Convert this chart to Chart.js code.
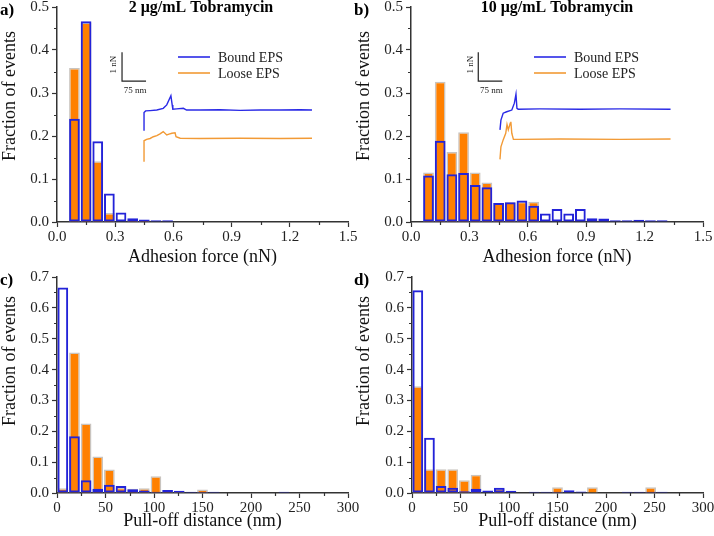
<!DOCTYPE html>
<html><head><meta charset="utf-8">
<script src="https://cdn.jsdelivr.net/npm/chart.js@4/dist/chart.umd.min.js"></script>
<style>
html,body{margin:0;padding:0;background:#fff;}
#wrap{position:relative;width:714px;height:536px;overflow:hidden;background:#fff;}
#wrap canvas{position:absolute;left:0;top:0;width:714px;height:536px;}
</style></head><body>
<div id="wrap">
<canvas id="ca" width="714" height="536"></canvas>
<canvas id="cb" width="714" height="536"></canvas>
<canvas id="cc" width="714" height="536"></canvas>
<canvas id="cd" width="714" height="536"></canvas>
</div>
<script>
// ---------- data ----------
const FORCE_BINS = [0.09,0.15,0.21,0.27,0.33,0.39,0.45,0.51,0.57,0.63,0.69,0.75,0.81,0.87,0.93,0.99,1.05,1.11,1.17,1.23,1.29];
const A_BOUND = [0.240,0.467,0.188,0.066,0.022,0.009,0.006,0.004,0.004,null,null,null,null,null,null,null,null,null,null,null,null];
const A_LOOSE = [0.358,0.464,0.141,0.021,null,0.006,0.004,null,null,null,null,null,null,null,null,null,null,null,null,null,null];
const B_BOUND = [0.108,0.189,0.111,0.114,0.086,0.081,0.044,0.046,0.050,0.038,0.020,0.030,0.020,0.030,0.009,0.008,0.004,0.004,0.005,0.004,0.004];
const B_LOOSE = [0.115,0.326,0.163,0.209,0.115,0.092,0.044,0.046,0.047,0.047,null,null,null,null,null,null,null,null,null,null,null];

const DIST_BINS = [6,18,30,42,54,66,78,90,102,114,126,138,150,162,174,186,198,210,222,234,246,258];
const C_BOUND = [0.666,0.184,0.041,0.014,0.027,0.023,0.012,0.008,0.004,0.010,0.007,0.004,0.004,0.004,null,null,null,null,null,0.004,null,null];
const C_LOOSE = [0.015,0.455,0.225,0.118,0.076,0.017,0.014,0.015,0.054,0.005,0.004,null,0.011,null,null,null,null,null,null,null,null,null];
const D_BOUND = [0.657,0.179,0.023,0.017,0.006,0.014,0.008,0.017,0.007,null,0.004,0.004,0.004,0.009,0.005,null,null,null,0.004,0.004,0.004,0.004];
const D_LOOSE = [0.346,0.077,0.077,0.077,0.041,0.059,null,0.014,null,null,null,null,0.019,null,null,0.019,null,null,null,null,0.019,null];

// inset force curves (distance in nm, force in nN, vertically offset)
const TRACE_A_BOUND_NM = [0,0,5,19,40,60,71,84,88,90,102,123,133,175,238,300,363,425,488,525];
const TRACE_A_BOUND_NN = [3.18,3.81,3.87,3.88,3.90,3.96,4.08,4.40,4.08,3.93,3.94,3.96,3.90,3.90,3.91,3.89,3.90,3.90,3.91,3.90];
const TRACE_A_LOOSE_NM = [0,0,8,19,29,40,50,60,71,78,87,97,100,113,175,300,425,525];
const TRACE_A_LOOSE_NN = [2.10,2.83,2.88,2.91,2.97,3.01,3.07,3.15,3.03,3.06,3.09,3.11,2.97,2.92,2.91,2.92,2.91,2.92];
const TRACE_B_BOUND_NM = [0,3,10,21,37,45,50,53,57,125,250,375,533];
const TRACE_B_BOUND_NN = [3.21,3.55,3.79,3.84,3.90,4.14,4.45,3.96,3.93,3.94,3.93,3.94,3.93];
const TRACE_B_LOOSE_NM = [0,3,10,18,22,26,32,34,37,42,57,188,375,533];
const TRACE_B_LOOSE_NN = [2.18,2.62,2.86,3.09,3.40,3.21,3.44,3.49,3.09,2.88,2.88,2.89,2.88,2.89];

const X_TICKS_FORCE = ['0.0','0.3','0.6','0.9','1.2','1.5'];
const SERIES_NAMES = ['Bound EPS','Loose EPS'];
const TITLES = ['2 \u03bcg/mL Tobramycin','10 \u03bcg/mL Tobramycin'];

// ---------- style ----------
const SERIF = "'Liberation Serif','Times New Roman',serif";
const BLUE = '#2323d8';
const ORANGE = '#ff8000';
const ORANGE_EDGE = '#c9c4bf';
const TRACE_BLUE = '#2a2ae6';
const TRACE_ORANGE = '#f29a35';
const AXIS = '#333333';

function isMajor(v, step){ const r = v/step; return Math.abs(r - Math.round(r)) < 1e-6; }

const deco = {
  id: 'deco',
  afterDraw(chart, args, o) {
    const ctx = chart.ctx;
    const xs = chart.scales.x, ys = chart.scales.y;
    ctx.save();
    // minor ticks
    ctx.strokeStyle = AXIS; ctx.lineWidth = 1.2;
    ctx.beginPath();
    xs.ticks.forEach(t => {
      if (!isMajor(t.value, o.xMajor)) {
        const p = Math.round(xs.getPixelForValue(t.value)) + 0.5;
        ctx.moveTo(p, ys.bottom); ctx.lineTo(p, ys.bottom + 3);
      }
    });
    ys.ticks.forEach(t => {
      if (!isMajor(t.value, o.yMajor)) {
        const p = Math.round(ys.getPixelForValue(t.value)) + 0.5;
        ctx.moveTo(xs.left, p); ctx.lineTo(xs.left - 3, p);
      }
    });
    ctx.stroke();
    // panel letter
    ctx.fillStyle = '#000';
    ctx.textAlign = 'left'; ctx.textBaseline = 'middle';
    ctx.font = 'bold 17px ' + SERIF;
    ctx.fillText(o.letter, o.letterX, o.letterY);
    // title
    if (o.title) {
      ctx.textAlign = 'center';
      ctx.font = 'bold 16px ' + SERIF;
      ctx.fillText(o.title, o.titleX, o.titleY);
    }
    // x axis title
    ctx.font = '18px ' + SERIF;
    ctx.textAlign = 'center'; ctx.textBaseline = 'alphabetic';
    ctx.fillStyle = '#111';
    ctx.fillText(o.xTitle, (chart.chartArea.left + chart.chartArea.right) / 2, o.xTitleY);
    // y axis title
    ctx.save();
    ctx.translate(o.yTitleX, o.yTitleY);
    ctx.rotate(-Math.PI / 2);
    ctx.textBaseline = 'middle';
    ctx.fillText(o.yTitle, 0, 0);
    ctx.restore();
    // inset: scale bar and legend
    if (o.inset) {
      const X2 = chart.scales.x2, Y2 = chart.scales.y2, b = o.inset.bar;
      const x0 = X2.getPixelForValue(b.x), x1 = X2.getPixelForValue(b.x + b.dx);
      const y0 = Y2.getPixelForValue(b.y), y1 = Y2.getPixelForValue(b.y + b.dy);
      ctx.strokeStyle = '#222'; ctx.lineWidth = 1.2;
      ctx.beginPath();
      ctx.moveTo(x0, y1); ctx.lineTo(x0, y0); ctx.lineTo(x1, y0);
      ctx.stroke();
      ctx.fillStyle = '#222';
      ctx.font = '9px ' + SERIF;
      ctx.textAlign = 'center'; ctx.textBaseline = 'middle';
      ctx.fillText(b.dx + ' nm', (x0 + x1) / 2 + 1, y0 + 10);
      ctx.save();
      ctx.translate(x0 - 8, (y0 + y1) / 2 - 2);
      ctx.rotate(-Math.PI / 2);
      ctx.fillText(b.dy + ' nN', 0, 0);
      ctx.restore();
      const lg = o.inset.legend;
      const lines = chart.data.datasets.filter(d => d.type === 'line');
      ctx.font = '14px ' + SERIF;
      ctx.textAlign = 'left'; ctx.textBaseline = 'middle';
      lines.forEach((d, i) => {
        const y = lg.y + i * lg.gap;
        ctx.strokeStyle = d.borderColor; ctx.lineWidth = 1.6;
        ctx.beginPath(); ctx.moveTo(lg.x, y); ctx.lineTo(lg.x + 32, y); ctx.stroke();
        ctx.fillStyle = '#222';
        ctx.fillText(d.label, lg.x + 40, y + 1);
      });
    }
    ctx.restore();
  }
};

function pts(xs, ys) { return xs.map((x, i) => ({ x: x, y: ys[i] })); }

function makeChart(id, c) {
  const datasets = [
    { type: 'bar', label: SERIES_NAMES[0] + ' hist', data: pts(c.bins, c.bound),
      backgroundColor: 'rgba(0,0,0,0)', borderColor: BLUE, borderWidth: 2,
      borderSkipped: false, grouped: false, barPercentage: 0.92, categoryPercentage: 1 },
    { type: 'bar', label: SERIES_NAMES[1] + ' hist', data: pts(c.bins, c.loose),
      backgroundColor: ORANGE, borderColor: ORANGE_EDGE, borderWidth: 1.5,
      borderSkipped: 'start', grouped: false, barPercentage: 0.92, categoryPercentage: 1 }
  ];
  const scales = {
    x: {
      type: 'linear', position: 'bottom', min: c.xMin, max: c.xMax, offset: false, bounds: 'data',
      grid: { offset: false, drawOnChartArea: false, drawTicks: true, tickLength: 5, tickWidth: 1.2,
              tickColor: (ctx) => (ctx.tick && isMajor(ctx.tick.value, c.xMajor)) ? AXIS : 'rgba(0,0,0,0)' },
      border: { display: true, color: AXIS, width: 1.5 },
      ticks: { stepSize: c.xStep, autoSkip: false, maxRotation: 0, padding: 1, color: '#222',
               font: { family: SERIF, size: 15 },
               callback: (v) => isMajor(v, c.xMajor) ? c.xFmt(v) : '' },
      afterFit: (s) => { s.height = 30; s.paddingLeft = 0; s.paddingRight = 0; }
    },
    y: {
      type: 'linear', position: 'left', min: 0, max: c.yMax, bounds: 'data',
      grid: { drawOnChartArea: false, drawTicks: true, tickLength: 5, tickWidth: 1.2,
              tickColor: (ctx) => (ctx.tick && isMajor(ctx.tick.value, 0.1)) ? AXIS : 'rgba(0,0,0,0)' },
      border: { display: true, color: AXIS, width: 1.5 },
      ticks: { stepSize: 0.05, autoSkip: false, padding: 3, color: '#222',
               font: { family: SERIF, size: 15 },
               callback: (v) => isMajor(v, 0.1) ? v.toFixed(1) : '' },
      afterFit: (s) => { s.width = 40; s.paddingTop = 0; s.paddingBottom = 0; }
    }
  };
  if (c.traces) {
    datasets.push(
      { type: 'line', label: SERIES_NAMES[0], xAxisID: 'x2', yAxisID: 'y2',
        data: pts(c.traces[0], c.traces[1]), borderColor: TRACE_BLUE, borderWidth: 1.4,
        pointRadius: 0, tension: 0, fill: false },
      { type: 'line', label: SERIES_NAMES[1], xAxisID: 'x2', yAxisID: 'y2',
        data: pts(c.traces[2], c.traces[3]), borderColor: TRACE_ORANGE, borderWidth: 1.4,
        pointRadius: 0, tension: 0, fill: false }
    );
    scales.x2 = { type: 'linear', display: false, bounds: 'data', offset: false,
                  grid: { offset: false }, min: c.x2[0], max: c.x2[1] };
    scales.y2 = { type: 'linear', display: false, bounds: 'data', offset: false,
                  min: c.y2[0], max: c.y2[1] };
  }
  const r = c.rect;
  return new Chart(document.getElementById(id), {
    type: 'bar',
    data: { datasets: datasets },
    options: {
      responsive: false, animation: false, devicePixelRatio: 1,
      layout: { padding: { left: r[0] - 40, right: 714 - r[1], top: r[2], bottom: 536 - r[3] - 30 } },
      plugins: { legend: { display: false }, tooltip: { enabled: false }, deco: c.deco },
      scales: scales
    },
    plugins: [deco]
  });
}

const fmtForce = (v) => X_TICKS_FORCE[Math.round(v / 0.3)];
const fmtDist = (v) => String(Math.round(v));

makeChart('ca', {
  bins: FORCE_BINS, bound: A_BOUND, loose: A_LOOSE,
  xMin: 0, xMax: 1.5, xStep: 0.15, xMajor: 0.3, xFmt: fmtForce, yMax: 0.5,
  rect: [57, 348, 7, 222],
  traces: [TRACE_A_BOUND_NM, TRACE_A_BOUND_NN, TRACE_A_LOOSE_NM, TRACE_A_LOOSE_NN],
  x2: [-272, 637.5], y2: [0, 7.49],
  deco: { letter: 'a)', letterX: 0, letterY: 11, title: TITLES[0], titleX: 201, titleY: 8,
          xTitle: 'Adhesion force (nN)', xTitleY: 262, yTitle: 'Fraction of events', yTitleX: 10, yTitleY: 96,
          xMajor: 0.3, yMajor: 0.1,
          inset: { bar: { x: -68.75, y: 4.91, dx: 75, dy: 1 }, legend: { x: 178, y: 57, gap: 16 } } }
});
makeChart('cb', {
  bins: FORCE_BINS, bound: B_BOUND, loose: B_LOOSE,
  xMin: 0, xMax: 1.5, xStep: 0.15, xMajor: 0.3, xFmt: fmtForce, yMax: 0.5,
  rect: [411, 703, 7, 222],
  traces: [TRACE_B_BOUND_NM, TRACE_B_BOUND_NN, TRACE_B_LOOSE_NM, TRACE_B_LOOSE_NN],
  x2: [-278, 634.4], y2: [0, 7.49],
  deco: { letter: 'b)', letterX: 354, letterY: 11, title: TITLES[1], titleX: 557, titleY: 8,
          xTitle: 'Adhesion force (nN)', xTitleY: 262, yTitle: 'Fraction of events', yTitleX: 364, yTitleY: 96,
          xMajor: 0.3, yMajor: 0.1,
          inset: { bar: { x: -67.8, y: 4.91, dx: 75, dy: 1 }, legend: { x: 534, y: 57, gap: 16 } } }
});
makeChart('cc', {
  bins: DIST_BINS, bound: C_BOUND, loose: C_LOOSE,
  xMin: 0, xMax: 300, xStep: 25, xMajor: 50, xFmt: fmtDist, yMax: 0.7,
  rect: [57, 348, 277, 493],
  deco: { letter: 'c)', letterX: 0, letterY: 281, xTitle: 'Pull-off distance (nm)', xTitleY: 526,
          yTitle: 'Fraction of events', yTitleX: 10, yTitleY: 361, xMajor: 50, yMajor: 0.1 }
});
makeChart('cd', {
  bins: DIST_BINS, bound: D_BOUND, loose: D_LOOSE,
  xMin: 0, xMax: 300, xStep: 25, xMajor: 50, xFmt: fmtDist, yMax: 0.7,
  rect: [412, 703, 277, 493],
  deco: { letter: 'd)', letterX: 354, letterY: 281, xTitle: 'Pull-off distance (nm)', xTitleY: 526,
          yTitle: 'Fraction of events', yTitleX: 364, yTitleY: 361, xMajor: 50, yMajor: 0.1 }
});
</script>
</body></html>
